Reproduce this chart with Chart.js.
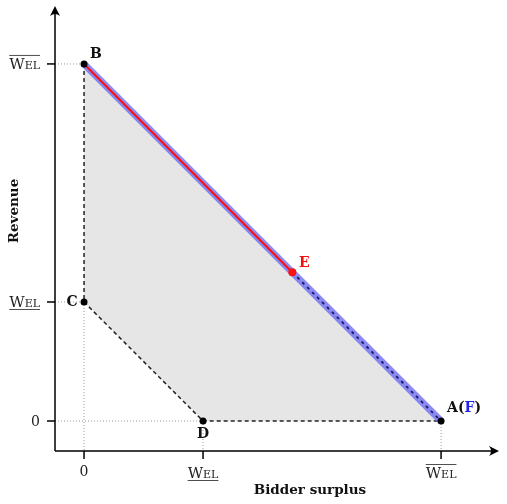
<!DOCTYPE html>
<html>
<head>
<meta charset="utf-8">
<script src="https://cdn.jsdelivr.net/npm/chart.js@4.4.0/dist/chart.umd.min.js"></script>
<style>
html, body { margin: 0; padding: 0; background: #fff; }
</style>
</head>
<body>
<canvas id="grafico" width="507" height="504"></canvas>
<script>
// Valores (1 = WEL sublinhado, 3 = WEL sobrelinhado)
const welLow = 1;
const welHigh = 3;
const xTicks = [0, welLow, welHigh];
const yTicks = [0, welLow, welHigh];
const tickKinds = ['zero', 'under', 'over'];

// Poligono sombreado B -> A -> D -> C
const regionX = [0, 3, 1, 0];
const regionY = [3, 0, 0, 1];

// Fronteira tracejada preta B -> C -> D -> A
const boundX = [0, 0, 1, 3];
const boundY = [3, 1, 0, 0];

// Fronteira azul B -> A, vermelha B -> E, tracejada E -> A
const frontX = [0, 3];
const frontY = [3, 0];
const pointE = { x: 1.75, y: 1.25 };

// Pontos nomeados
const pointNames = ['B', 'C', 'D', 'A'];
const pointX = [0, 0, 1, 3];
const pointY = [3, 1, 0, 0];

const serif = '"DejaVu Serif", "Liberation Serif", serif';

function pts(xs, ys) {
    return xs.map((x, i) => ({ x: x, y: ys[i] }));
}

// Linhas pontilhadas de referencia ate os eixos
const xMin = -0.244, xMax = 3.47, yMin = -0.252, yMax = 3.47;
const guideStyle = { borderColor: '#9a9a9a', borderWidth: 1, borderDash: [1, 2], pointRadius: 0, showLine: true, fill: false, order: 9 };
const guides = [
    [{ x: xMin, y: welHigh }, { x: 0, y: welHigh }],
    [{ x: xMin, y: welLow }, { x: 0, y: welLow }],
    [{ x: xMin, y: 0 }, { x: welLow, y: 0 }],
    [{ x: 0, y: welLow }, { x: 0, y: yMin }],
    [{ x: welLow, y: 0 }, { x: welLow, y: yMin }],
    [{ x: welHigh, y: 0 }, { x: welHigh, y: yMin }]
].map(d => Object.assign({ data: d }, guideStyle));

// Desenha o texto "WEL" em versalete, com traco por cima ou por baixo
function drawWel(ctx, x, y, kind, align) {
    ctx.save();
    ctx.textBaseline = 'alphabetic';
    ctx.font = '15px ' + serif;
    const w1 = ctx.measureText('W').width;
    ctx.font = '11px ' + serif;
    const w2 = ctx.measureText('EL').width;
    const total = w1 + w2;
    let left = x;
    if (align === 'center') left = x - total / 2;
    if (align === 'right') left = x - total;
    ctx.fillStyle = '#222';
    ctx.textAlign = 'left';
    ctx.font = '15px ' + serif;
    ctx.fillText('W', left, y);
    ctx.font = '11px ' + serif;
    ctx.fillText('EL', left + w1, y);
    ctx.strokeStyle = '#222';
    ctx.lineWidth = 0.8;
    ctx.beginPath();
    const ly = kind === 'over' ? y - 13.5 : y + 2.5;
    ctx.moveTo(left, ly);
    ctx.lineTo(left + total, ly);
    ctx.stroke();
    ctx.restore();
}

function arrowHead(ctx, x, y, dir) {
    ctx.save();
    ctx.translate(x, y);
    ctx.rotate(dir);
    ctx.beginPath();
    ctx.moveTo(0, 0);
    ctx.lineTo(-10, -5);
    ctx.quadraticCurveTo(-6, 0, -10, 5);
    ctx.closePath();
    ctx.fillStyle = '#000';
    ctx.fill();
    ctx.restore();
}

const eixosPlugin = {
    id: 'eixos',
    afterDatasetsDraw(chart) {
        const ctx = chart.ctx;
        const area = chart.chartArea;
        const sx = chart.scales.x;
        const sy = chart.scales.y;
        ctx.save();
        ctx.strokeStyle = '#000';
        ctx.lineWidth = 1.5;
        ctx.beginPath();
        ctx.moveTo(area.left, area.bottom);
        ctx.lineTo(area.right - 2, area.bottom);
        ctx.moveTo(area.left, area.bottom);
        ctx.lineTo(area.left, area.top + 2);
        ctx.stroke();
        arrowHead(ctx, area.right + 2, area.bottom, 0);
        arrowHead(ctx, area.left, area.top - 2, -Math.PI / 2);

        // marcas e rotulos dos eixos
        ctx.lineWidth = 1.5;
        xTicks.forEach((v, i) => {
            const px = sx.getPixelForValue(v);
            ctx.beginPath();
            ctx.moveTo(px, area.bottom);
            ctx.lineTo(px, area.bottom + 8);
            ctx.stroke();
            if (tickKinds[i] === 'zero') {
                ctx.fillStyle = '#222';
                ctx.font = '14px ' + serif;
                ctx.textAlign = 'center';
                ctx.textBaseline = 'alphabetic';
                ctx.fillText('0', px, area.bottom + 25);
            } else {
                drawWel(ctx, px, area.bottom + 27, tickKinds[i], 'center');
            }
        });
        yTicks.forEach((v, i) => {
            const py = sy.getPixelForValue(v);
            ctx.beginPath();
            ctx.moveTo(area.left - 8, py);
            ctx.lineTo(area.left, py);
            ctx.stroke();
            if (tickKinds[i] === 'zero') {
                ctx.fillStyle = '#222';
                ctx.font = '14px ' + serif;
                ctx.textAlign = 'right';
                ctx.textBaseline = 'alphabetic';
                ctx.fillText('0', area.left - 15, py + 5);
            } else {
                drawWel(ctx, area.left - 15, py + 5, tickKinds[i], 'right');
            }
        });

        // titulos dos eixos
        ctx.fillStyle = '#111';
        ctx.font = 'bold 13.5px ' + serif;
        ctx.textAlign = 'center';
        ctx.textBaseline = 'middle';
        ctx.fillText('Bidder surplus', 310, 490);
        ctx.save();
        ctx.translate(14, 211);
        ctx.rotate(-Math.PI / 2);
        ctx.fillText('Revenue', 0, 0);
        ctx.restore();

        // nomes dos pontos
        ctx.font = 'bold 14px ' + serif;
        ctx.textBaseline = 'middle';
        const offs = { B: [12, -10, 'center'], C: [-12, 0, 'center'], D: [0, 13, 'center'], A: [6, -13, 'left'] };
        pointNames.forEach((n, i) => {
            const px = sx.getPixelForValue(pointX[i]);
            const py = sy.getPixelForValue(pointY[i]);
            const o = offs[n];
            ctx.textAlign = o[2];
            ctx.fillStyle = '#111';
            if (n === 'A') {
                let x0 = px + o[0];
                ctx.fillText('A(', x0, py + o[1]);
                x0 += ctx.measureText('A(').width;
                ctx.fillStyle = '#2222ee';
                ctx.fillText('F', x0, py + o[1]);
                x0 += ctx.measureText('F').width;
                ctx.fillStyle = '#111';
                ctx.fillText(')', x0, py + o[1]);
            } else {
                ctx.fillText(n, px + o[0], py + o[1]);
            }
        });
        ctx.fillStyle = '#ee1111';
        ctx.textAlign = 'center';
        ctx.fillText('E', sx.getPixelForValue(pointE.x) + 12, sy.getPixelForValue(pointE.y) - 9);
        ctx.restore();
    }
};

const ctx = document.getElementById('grafico').getContext('2d');
const grafico = new Chart(ctx, {
    type: 'scatter',
    data: {
        datasets: [
            {
                data: pts(regionX, regionY),
                showLine: true, borderWidth: 0, borderColor: 'rgba(0,0,0,0)',
                backgroundColor: '#e6e6e6', fill: 'shape', pointRadius: 0, order: 10
            },
            ...guides,
            {
                data: pts(boundX, boundY),
                showLine: true, borderColor: '#222', borderWidth: 1.5, borderDash: [4, 3],
                pointRadius: 0, fill: false, order: 8
            },
            {
                data: pts(frontX, frontY),
                showLine: true, borderColor: 'rgba(110,110,240,0.8)', borderWidth: 7,
                pointRadius: 0, fill: false, order: 7
            },
            {
                data: [{ x: frontX[0], y: frontY[0] }, pointE],
                showLine: true, borderColor: '#ff1010', borderWidth: 2,
                pointRadius: 0, fill: false, order: 6
            },
            {
                data: [pointE, { x: frontX[1], y: frontY[1] }],
                showLine: true, borderColor: '#1a1a66', borderWidth: 1.8, borderDash: [3, 4],
                pointRadius: 0, fill: false, order: 5
            },
            {
                data: pts(pointX, pointY),
                showLine: false, pointRadius: 3.5, pointBackgroundColor: '#000', pointBorderWidth: 0, order: 2
            },
            {
                data: [pointE],
                showLine: false, pointRadius: 4, pointBackgroundColor: '#ff1010', pointBorderWidth: 0, order: 1
            }
        ]
    },
    options: {
        responsive: false,
        animation: false,
        layout: { padding: { left: 55, right: 10, top: 8, bottom: 53 } },
        plugins: { legend: { display: false }, tooltip: { enabled: false } },
        scales: {
            x: { type: 'linear', display: false, min: xMin, max: xMax },
            y: { type: 'linear', display: false, min: yMin, max: yMax }
        }
    },
    plugins: [eixosPlugin]
});
</script>
</body>
</html>
